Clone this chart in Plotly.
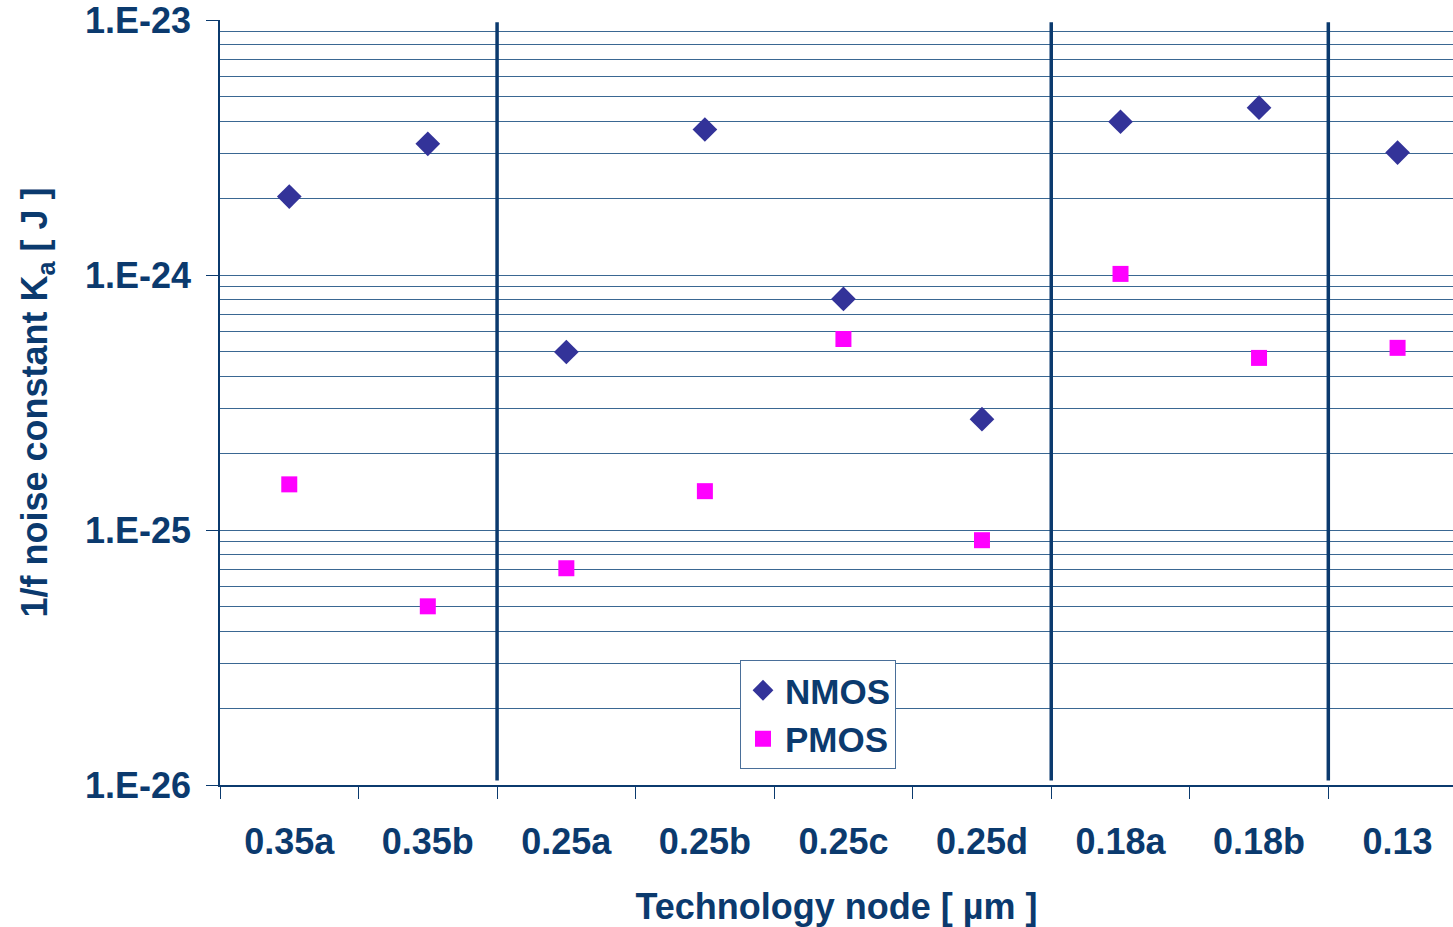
import plotly.graph_objects as go

categories = ["0.35a", "0.35b", "0.25a", "0.25b", "0.25c", "0.25d", "0.18a", "0.18b", "0.13"]
nmos = [2.03e-24, 3.27e-24, 4.99e-25, 3.72e-24, 8.06e-25, 2.72e-25, 3.99e-24, 4.53e-24, 3.02e-24]
pmos = [1.51e-25, 5.02e-26, 7.08e-26, 1.42e-25, 5.61e-25, 9.12e-26, 1.01e-24, 4.73e-25, 5.18e-25]
y_tick_vals = [1e-26, 1e-25, 1e-24, 1e-23]
y_tick_text = ["1.E-26", "1.E-25", "1.E-24", "1.E-23"]
separators = [1.5, 5.5, 7.5]

DARK = "#0b3a6e"
GRID = "#3a6792"
FONT = "Liberation Sans, Arial, sans-serif"

xpos = list(range(len(categories)))

fig = go.Figure()
fig.add_trace(go.Scatter(x=xpos, y=nmos, mode="markers", name="NMOS",
                         marker=dict(symbol="diamond", size=19, color="#333399")))
fig.add_trace(go.Scatter(x=xpos, y=pmos, mode="markers", name="PMOS",
                         marker=dict(symbol="square", size=16, color="#ff00ff")))

minor_y = []
for e in (-26, -25, -24):
    for m in range(2, 10):
        minor_y.append(m * 10.0 ** e)

for s in separators:
    fig.add_shape(type="line", xref="x", yref="paper", x0=s, x1=s, y0=0.006, y1=0.997,
                  line=dict(color=DARK, width=3.5))

fig.update_layout(
    width=1453, height=927,
    margin=dict(l=220, r=0, t=20, b=142),
    paper_bgcolor="white", plot_bgcolor="white",
    font=dict(family=FONT, color=DARK, size=36, weight="bold"),
    showlegend=True,
    legend=dict(x=(740 - 220) / 1233, y=(785 - 660) / 765, xanchor="left", yanchor="top",
                bordercolor="#4a6f99", borderwidth=1, bgcolor="white",
                font=dict(family=FONT, size=35, color=DARK, weight="bold"),
                itemwidth=34, tracegroupgap=0),
)

fig.update_xaxes(
    range=[-0.5, 8.4],
    tickmode="array", tickvals=xpos, ticktext=categories, ticks="",
    tickfont=dict(family=FONT, size=36, color=DARK, weight="bold"),
    ticklabelstandoff=24,
    showgrid=False, zeroline=False,
    showline=True, linecolor=DARK, linewidth=1.5,
    minor=dict(tickmode="array", tickvals=[-0.5 + i for i in range(9)], ticks="outside",
               ticklen=12, tickcolor=DARK, tickwidth=1, showgrid=False),
    title=dict(text="Technology node [ µm ]", standoff=34,
               font=dict(family=FONT, size=36, color=DARK, weight="bold")),
)

fig.update_yaxes(
    type="log", range=[-26, -23],
    tickmode="array", tickvals=y_tick_vals, ticktext=y_tick_text,
    ticks="outside", ticklen=12, tickcolor=DARK, tickwidth=1,
    tickfont=dict(family=FONT, size=36, color=DARK, weight="bold"),
    ticklabelstandoff=8, ticklabeloverflow="allow",
    showgrid=True, gridcolor=GRID, gridwidth=1,
    zeroline=False, showline=True, linecolor=DARK, linewidth=1.5,
    minor=dict(tickmode="array", tickvals=minor_y, ticks="", showgrid=True,
               gridcolor=GRID, gridwidth=1),
    title=dict(text="1/f noise constant K<sub>a</sub> [ J ]", standoff=26,
               font=dict(family=FONT, size=36, color=DARK, weight="bold")),
)

fig.write_html("out.html")
